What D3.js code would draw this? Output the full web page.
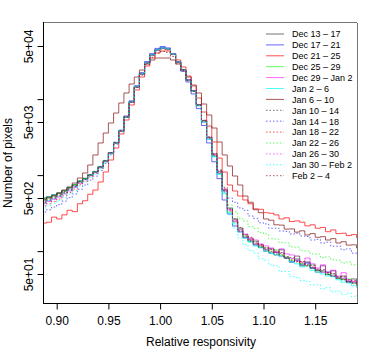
<!DOCTYPE html>
<html><head><meta charset="utf-8">
<script src="https://cdn.jsdelivr.net/npm/d3@7"></script>
<style>
html,body{margin:0;padding:0;background:#fff;}
svg{display:block;font-family:"Liberation Sans",Arial,Helvetica,sans-serif;}
</style></head>
<body>
<script>
// ---- DATA ----
const binStarts = [0.885,0.890,0.895,0.900,0.905,0.910,0.915,0.920,0.925,0.930,0.935,0.940,0.945,0.950,0.955,0.960,0.965,0.970,0.975,0.980,0.985,0.990,0.995,1.000,1.005,1.010,1.015,1.020,1.025,1.030,1.035,1.040,1.045,1.050,1.055,1.060,1.065,1.070,1.075,1.080,1.085,1.090,1.095,1.100,1.105,1.110,1.115,1.120,1.125,1.130,1.135,1.140,1.145,1.150,1.155,1.160,1.165,1.170,1.175,1.180,1.185,1.190];
const binWidth = 0.005;

const dec13_17 = [485,512,540,570,620,680,740,830,900,1010,1110,1290,1540,1950,2640,3790,5800,9200,14600,21700,30300,38500,44800,47500,46000,39400,30700,23900,17600,12600,8200,5000,2980,1780,1060,620,
  369,265,201,153,144,124,120,100,107,89,104,81,72,86,64,72,60,53,64,49,55,44,47,39,43,37];
const dec17_21 = [500,520,552,585,630,690,755,840,910,1020,1120,1300,1560,1980,2700,3900,6000,9500,15000,22300,31200,39700,46500,49200,47200,39800,30500,23300,16800,11700,7500,4500,2650,1500,900,471,
  308,214,179,149,136,120,113,104,94,97,86,81,72,76,66,70,60,56,53,53,47,44,43,40,38,37];
const dec21_25 = [234,240,280,265,300,345,330,420,460,560,637,812,1099,1581,2275,3475,5309,8370,13180,19540,27290,34760,40460,42960,42960,39260,32730,26480,20140,14890,10350,6772,4429,2728,1679,1099,
  741,618,531,471,420,360,355,320,315,300,265,275,245,250,240,215,222,200,205,180,190,170,172,160,165,150];
const dec25_29 = [495,515,548,580,625,690,750,835,905,1015,1110,1290,1550,1960,2660,3830,5850,9250,14700,21800,30200,38300,44500,47300,45800,39300,30800,24200,17900,12850,8450,5200,3120,1870,1110,650,
  327,242,195,158,132,136,113,110,97,104,89,84,76,79,68,64,66,56,55,50,50,44,42,43,38,36];
const dec29_jan2 = [420,450,480,515,565,620,690,780,870,985,1085,1260,1520,1940,2640,3800,5830,9180,14500,21500,30000,38200,44400,47200,45900,39500,31000,24400,18100,13000,8500,5250,3150,1880,1120,650,
  348,249,190,168,149,140,124,117,110,97,107,92,89,79,72,81,68,60,66,53,56,47,52,42,40,37];
const jan2_6 = [430,465,495,530,580,640,705,800,880,1000,1095,1275,1530,1950,2650,3820,5840,9200,14550,21550,30100,38400,44700,47500,46100,39500,30900,24100,17700,12600,8200,5000,2950,1740,1020,580,
  318,228,179,149,132,117,110,100,94,89,86,81,72,68,62,64,56,53,50,47,46,42,39,38,35,33];
const jan6_10 = [471,500,531,582,637,698,788,916,1067,1359,1840,2648,3581,4850,6565,8892,12040,15810,19540,24150,28980,32730,34760,34760,34760,32730,28980,24150,19540,15340,12040,8630,6180,4168,2728,1840,
  1318,973,741,531,440,350,320,265,255,222,220,195,196,178,185,163,170,152,155,140,146,128,133,120,121,110];
const jan10_14 = [470,500,528,560,612,668,730,822,895,1008,1102,1282,1538,1955,2650,3810,5820,9150,14400,21300,29700,37900,44000,46700,45400,39100,30700,24100,17800,12750,8350,5130,3070,1830,1090,630,
  358,257,184,163,136,132,113,110,100,94,94,81,79,74,68,68,60,56,55,49,47,46,42,40,39,36];
const jan14_18 = [327,350,380,410,455,505,565,650,740,860,970,1150,1420,1850,2560,3720,5720,9050,14300,21200,29600,37800,44000,46800,45500,39200,30800,24300,18000,12950,8500,5260,3180,1930,1150,600,
  500,440,370,345,290,270,236,228,200,200,184,182,168,172,158,156,140,143,128,131,116,116,104,107,94,96];
const jan18_22 = [393,420,450,485,535,590,655,745,830,950,1050,1230,1490,1910,2610,3770,5780,9100,14350,21300,29700,37600,43200,45500,44300,38400,30300,23900,17700,12750,8380,5180,3110,1870,1120,660,
  337,242,184,153,140,124,117,104,97,100,89,81,76,72,70,64,62,56,53,52,47,44,43,39,38,35];
const jan22_26 = [450,478,508,540,592,648,712,805,882,998,1092,1272,1528,1948,2645,3805,5815,9150,14420,21380,29800,37950,44100,46900,45500,39100,30700,24100,17850,12820,8420,5200,3120,1880,1130,570,
  404,330,270,248,210,200,176,168,146,144,130,128,114,113,102,100,92,91,82,84,77,76,70,72,66,67];
const jan26_30 = [440,470,500,532,585,640,705,795,875,990,1085,1265,1520,1945,2640,3800,5810,9170,14480,21450,29900,38100,44350,47100,45750,39300,30800,24150,17830,12780,8360,5140,3070,1835,1095,635,
  348,249,195,163,144,128,122,108,106,95,94,84,80,74,73,65,65,57,56,51,50,45,45,41,40,36];
const jan30_feb2 = [369,395,425,460,510,565,630,720,810,930,1030,1210,1470,1890,2590,3750,5760,9080,14330,21250,29650,37850,44050,46850,45500,39150,30650,24000,17700,12650,8250,5050,2990,1760,1030,560,
  299,201,149,122,102,94,79,76,66,64,54,54,46,45,41,40,36,36,32,33,29,30,27,28,25,26];
const feb2_4 = [440,468,498,530,582,640,703,795,875,995,1095,1280,1545,1985,2700,3880,5880,9150,14200,20700,28400,35600,40500,42300,41200,36300,29200,23300,17500,12700,8400,5250,3180,1930,1170,690,
  358,265,205,165,152,133,122,110,106,97,96,84,82,74,73,66,65,58,57,52,51,46,46,42,41,37];

const seriesNames = ["Dec 13 \u2013 17","Dec 17 \u2013 21","Dec 21 \u2013 25","Dec 25 \u2013 29","Dec 29 \u2013 Jan 2","Jan 2 \u2013 6","Jan 6 \u2013 10",
  "Jan 10 \u2013 14","Jan 14 \u2013 18","Jan 18 \u2013 22","Jan 22 \u2013 26","Jan 26 \u2013 30","Jan 30 \u2013 Feb 2","Feb 2 \u2013 4"];
const seriesValues = [dec13_17,dec17_21,dec21_25,dec25_29,dec29_jan2,jan2_6,jan6_10,jan10_14,jan14_18,jan18_22,jan22_26,jan26_30,jan30_feb2,feb2_4];

const xTicks = [0.90,0.95,1.00,1.05,1.10,1.15];
const yTicks = [50,100,500,1000,5000,10000,50000];
const yTickLabels = {50:"5e+01",500:"5e+02",5000:"5e+03",50000:"5e+04"};

// ---- STYLE ----
const baseColors = ["#000000","#0000ff","#ff0000","#00ff00","#ff00ff","#00ffff","#8b2020"];
const alphas = [0.55,0.6,0.7,0.65,0.6,0.7,0.75];

const W = 371, H = 355;
const L = 44, R = 357, T = 23, B = 303;

const x = d3.scaleLinear().domain([0.88772, 1.19042]).range([L, R]);
const y = d3.scaleLog().domain([20.77, 100370]).range([B, T]);

const svg = d3.select("body").append("svg").attr("width", W).attr("height", H);

svg.append("defs").append("clipPath").attr("id","clip")
  .append("rect").attr("x", L).attr("y", T).attr("width", R - L).attr("height", B - T);

const line = d3.line().x(d => x(d[0])).y(d => y(d[1])).curve(d3.curveStepAfter);

function colorOf(i) { const c = d3.color(baseColors[i % 7]); c.opacity = alphas[i % 7]; return c.toString(); }

const g = svg.append("g").attr("clip-path","url(#clip)");
seriesValues.forEach((vals, i) => {
  const pts = vals.map((v, j) => [binStarts[j], v]);
  pts.push([binStarts[binStarts.length - 1] + binWidth, vals[vals.length - 1]]);
  g.append("path").attr("d", line(pts))
    .attr("fill","none").attr("stroke", colorOf(i)).attr("stroke-width", 1)
    .attr("stroke-dasharray", i >= 7 ? "1.5,2" : null);
});

// box
svg.append("line").attr("x1",L).attr("x2",R).attr("y1",T-0.5).attr("y2",T-0.5).attr("stroke","#777");
svg.append("line").attr("x1",R+0.5).attr("x2",R+0.5).attr("y1",T).attr("y2",B).attr("stroke","#777");
svg.append("line").attr("x1",L-0.5).attr("x2",L-0.5).attr("y1",T-1).attr("y2",B+1).attr("stroke","#000");
svg.append("line").attr("x1",L-1).attr("x2",R+1).attr("y1",B+0.5).attr("y2",B+0.5).attr("stroke","#000");

// x axis
const xa = svg.append("g").attr("transform",`translate(0,${B + 0.5})`)
  .call(d3.axisBottom(x).tickValues(xTicks).tickFormat(d3.format(".2f")).tickSize(6).tickSizeOuter(0));
xa.select(".domain").remove();
xa.selectAll("text").attr("font-size", 12).attr("font-family","Liberation Sans, Arial, sans-serif").attr("fill","#000").attr("dy", null).attr("y", 21.5);

// y axis
const ya = svg.append("g").attr("transform",`translate(${L - 0.5},0)`)
  .call(d3.axisLeft(y).tickValues(yTicks).tickFormat(d => yTickLabels[d] || "").tickSize(6).tickSizeOuter(0));
ya.select(".domain").remove();
ya.selectAll("text").attr("font-size", 12).attr("font-family","Liberation Sans, Arial, sans-serif").attr("fill","#000")
  .attr("x", null).attr("dy", null).attr("text-anchor","middle")
  .attr("transform", "translate(-10.5,0) rotate(-90)");

// titles
svg.append("text").attr("x", (L + R) / 2 + 0.5).attr("y", 346).attr("text-anchor","middle")
  .attr("font-size", 12).text("Relative responsivity");
svg.append("text").attr("transform", `translate(11.5,${(T + B) / 2}) rotate(-90)`).attr("text-anchor","middle")
  .attr("font-size", 12).text("Number of pixels");

// legend
const lg = svg.append("g");
seriesNames.forEach((name, i) => {
  const yy = 34 + i * 10.9;
  lg.append("line").attr("x1", 266).attr("x2", 284).attr("y1", yy).attr("y2", yy)
    .attr("stroke", colorOf(i)).attr("stroke-width", 1)
    .attr("stroke-dasharray", i >= 7 ? "1.5,2" : null);
  lg.append("text").attr("x", 292).attr("y", yy + 3.3).attr("font-size", 9).attr("fill","#000").text(name);
});
</script>
</body></html>
